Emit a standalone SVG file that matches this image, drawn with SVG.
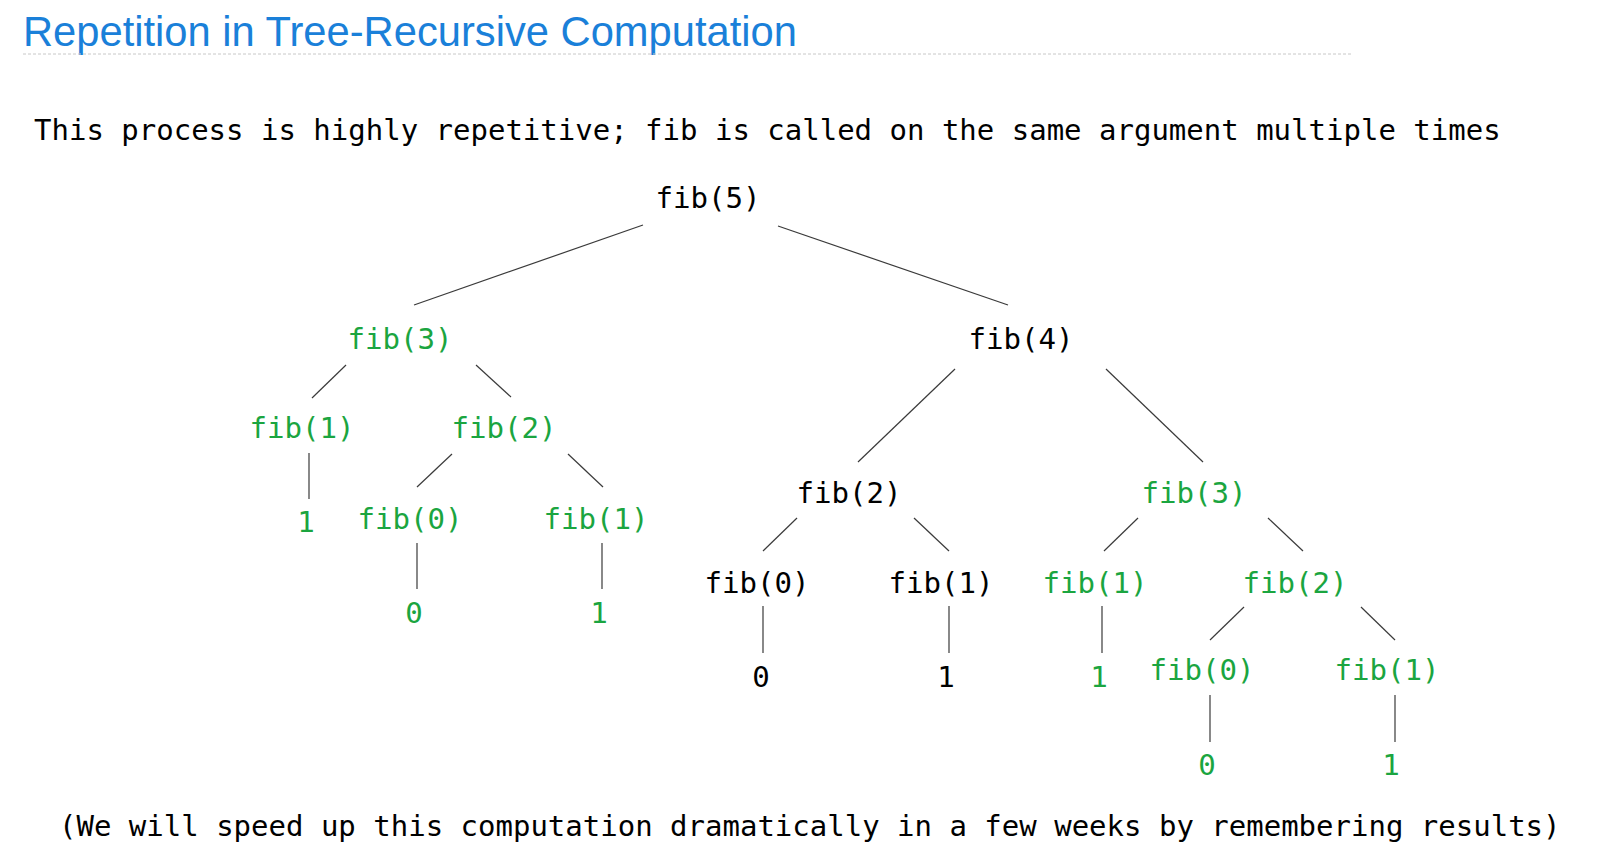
<svg xmlns="http://www.w3.org/2000/svg" width="1598" height="852" viewBox="0 0 1598 852">
<style>
.title{font-family:"Liberation Sans",Arial,sans-serif;font-size:41.7px;fill:#1a80d9}
.mono{font-family:"DejaVu Sans Mono",monospace;font-size:29px;fill:#000}
.n{font-family:"DejaVu Sans Mono",monospace;font-size:29.1px;text-anchor:middle}
.b{fill:#000}
.g{fill:#1ba540}
.edges line{stroke:#3a3a3a;stroke-width:1.2}
</style>
<rect width="1598" height="852" fill="#fff"/>
<text class="title" x="23" y="46">Repetition in Tree-Recursive Computation</text>
<line x1="23" y1="54" x2="1352" y2="54" stroke="#c8c8c8" stroke-width="1" stroke-dasharray="3,2"/>
<text class="mono" x="34" y="140">This process is highly repetitive; fib is called on the same argument multiple times</text>
<g class="edges" id="connectors">
<line x1="643" y1="225" x2="414" y2="305"/>
<line x1="778" y1="226" x2="1008" y2="305"/>
<line x1="346" y1="365" x2="312" y2="398"/>
<line x1="476" y1="365" x2="511" y2="397"/>
<line x1="309" y1="453" x2="309" y2="499"/>
<line x1="452" y1="454" x2="417" y2="487"/>
<line x1="568" y1="454" x2="603" y2="487"/>
<line x1="417" y1="543" x2="417" y2="589"/>
<line x1="602" y1="543" x2="602" y2="589"/>
<line x1="955" y1="369" x2="858" y2="462"/>
<line x1="1106" y1="369" x2="1203" y2="462"/>
<line x1="797" y1="518" x2="763" y2="551"/>
<line x1="914" y1="518" x2="949" y2="551"/>
<line x1="1138" y1="518" x2="1104" y2="551"/>
<line x1="1268" y1="518" x2="1303" y2="551"/>
<line x1="763" y1="606" x2="763" y2="653"/>
<line x1="949" y1="606" x2="949" y2="653"/>
<line x1="1102" y1="606" x2="1102" y2="653"/>
<line x1="1244" y1="607" x2="1210" y2="640"/>
<line x1="1361" y1="607" x2="1395" y2="640"/>
<line x1="1210" y1="695" x2="1210" y2="742"/>
<line x1="1395" y1="695" x2="1395" y2="742"/>
</g>
<g id="fib5"><text class="n b" x="708" y="208">fib(5)</text></g>
<g id="fib3a"><text class="n g" x="400" y="349">fib(3)</text></g>
<g id="fib4"><text class="n b" x="1021" y="349">fib(4)</text></g>
<g id="fib1a"><text class="n g" x="302" y="438">fib(1)</text></g>
<g id="fib2a"><text class="n g" x="504" y="438">fib(2)</text></g>
<g id="v1a"><text class="n g" x="306" y="532">1</text></g>
<g id="fib0a"><text class="n g" x="410" y="529">fib(0)</text></g>
<g id="fib1b"><text class="n g" x="596" y="529">fib(1)</text></g>
<g id="v0a"><text class="n g" x="414" y="623">0</text></g>
<g id="v1b"><text class="n g" x="599" y="623">1</text></g>
<g id="fib2b"><text class="n b" x="849" y="503">fib(2)</text></g>
<g id="fib3b"><text class="n g" x="1194" y="503">fib(3)</text></g>
<g id="fib0b"><text class="n b" x="757" y="593">fib(0)</text></g>
<g id="fib1c"><text class="n b" x="941" y="593">fib(1)</text></g>
<g id="fib1d"><text class="n g" x="1095" y="593">fib(1)</text></g>
<g id="fib2c"><text class="n g" x="1295" y="593">fib(2)</text></g>
<g id="v0b"><text class="n b" x="761" y="687">0</text></g>
<g id="v1c"><text class="n b" x="946" y="687">1</text></g>
<g id="v1d"><text class="n g" x="1099" y="687">1</text></g>
<g id="fib0c"><text class="n g" x="1202" y="680">fib(0)</text></g>
<g id="fib1e"><text class="n g" x="1387" y="680">fib(1)</text></g>
<g id="v0c"><text class="n g" x="1207" y="775">0</text></g>
<g id="v1e"><text class="n g" x="1391" y="775">1</text></g>
<text class="mono" x="59" y="836">(We will speed up this computation dramatically in a few weeks by remembering results)</text>
</svg>
